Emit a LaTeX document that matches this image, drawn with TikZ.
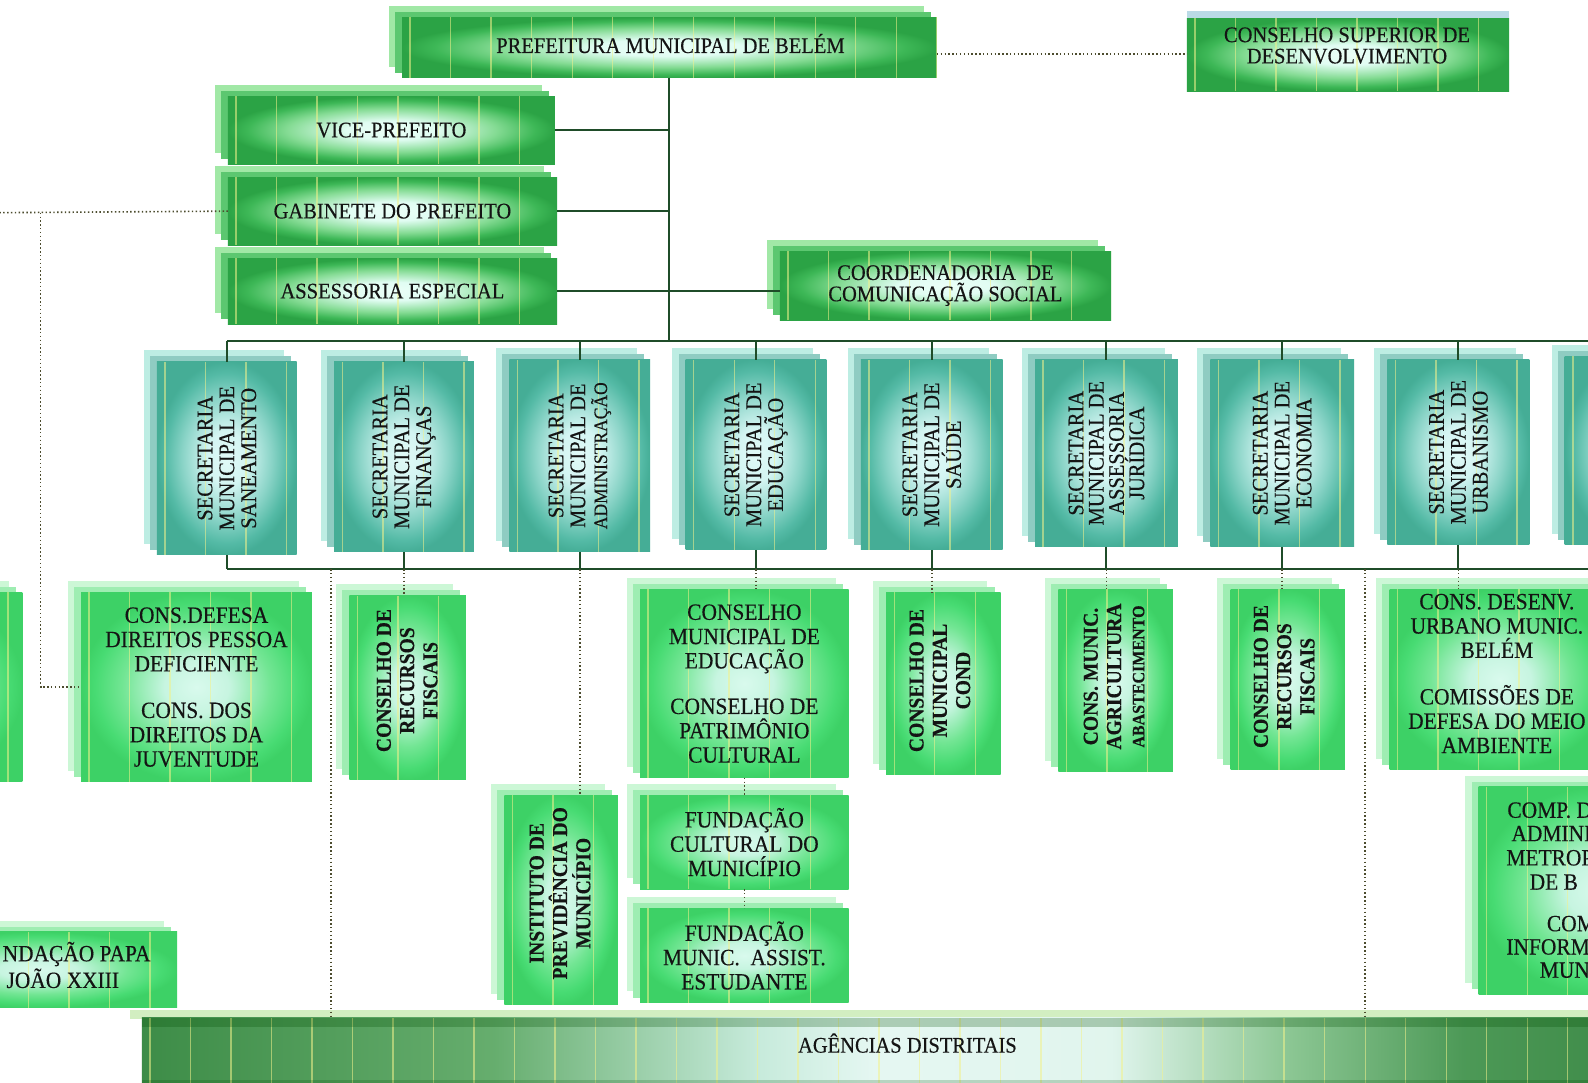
\documentclass[tikz,border=0pt]{standalone}
\usepackage{fontspec}
\setmainfont{Liberation Serif}[FakeStretch=0.92, FakeBold=0.3]
\pgfdeclareradialshading{topshade}{\pgfpoint{0bp}{0bp}}{rgb(0bp)=(0.92,1,0.97); rgb(7bp)=(0.88,0.99,0.95); rgb(16bp)=(0.52,0.86,0.58); rgb(22bp)=(0.24,0.72,0.34); rgb(25bp)=(0.17,0.64,0.27); rgb(50bp)=(0.17,0.64,0.27)}
\pgfdeclareradialshading{secshade}{\pgfpoint{0bp}{0bp}}{rgb(0bp)=(0.88,0.98,0.97); rgb(7bp)=(0.83,0.96,0.95); rgb(16bp)=(0.54,0.83,0.78); rgb(22bp)=(0.33,0.73,0.65); rgb(25bp)=(0.27,0.68,0.59); rgb(50bp)=(0.27,0.68,0.59)}
\pgfdeclareradialshading{coushade}{\pgfpoint{0bp}{0bp}}{rgb(0bp)=(0.85,0.98,0.93); rgb(7bp)=(0.78,0.96,0.88); rgb(16bp)=(0.45,0.9,0.58); rgb(22bp)=(0.28,0.86,0.45); rgb(25bp)=(0.24,0.82,0.4); rgb(50bp)=(0.24,0.82,0.4)}
\pgfdeclarehorizontalshading{agshade}{100bp}{rgb(0bp)=(0.24,0.55,0.28); rgb(25bp)=(0.24,0.55,0.28); rgb(37bp)=(0.4,0.68,0.43); rgb(46bp)=(0.78,0.92,0.86); rgb(50bp)=(0.9,0.97,0.95); rgb(58bp)=(0.88,0.96,0.93); rgb(64bp)=(0.55,0.78,0.58); rgb(70bp)=(0.3,0.6,0.34); rgb(75bp)=(0.25,0.55,0.29); rgb(100bp)=(0.25,0.55,0.29)}
\definecolor{topbackc}{rgb}{0.63,0.91,0.65}
\definecolor{topmidc}{rgb}{0.36,0.78,0.44}
\definecolor{secbackc}{rgb}{0.74,0.93,0.89}
\definecolor{secmidc}{rgb}{0.56,0.8,0.76}
\definecolor{coubackc}{rgb}{0.8,0.97,0.84}
\definecolor{coumidc}{rgb}{0.62,0.93,0.7}
\definecolor{linec}{rgb}{0.12,0.3,0.16}
\definecolor{dotc}{rgb}{0.3,0.3,0.18}
\definecolor{stripec}{rgb}{0.95,0.95,0.55}
\definecolor{textc}{rgb}{0.08,0.08,0.08}
\newcommand\mkbox[7]{%
  \fill[#2back] ({#3-13},{#4-11}) rectangle ({#5-13},{#6-11});
  \fill[#2mid] ({#3-7},{#4-5}) rectangle ({#5-6},{#6-5});
  \node[#2front, minimum width={(#5-#3)*0.5pt}, minimum height={(#6-#4)*0.5pt}] (#1) at ({(#3+#5)/2},{(#4+#6)/2}) {#7};
}
\begin{document}
\begin{tikzpicture}[x=0.5pt,y=-0.5pt,
  txt/.style={text=textc, font=\fontsize{11}{10.5}\selectfont, align=center},
  cotxt/.style={text=textc, font=\fontsize{11.5}{12}\selectfont, align=center},
  vtxt/.style={text=textc, font=\fontsize{11}{10.8}\selectfont, align=center, rotate=90, inner sep=0pt},
  vctxt/.style={text=textc, font=\bfseries\fontsize{10.5}{11.5}\selectfont, align=center, rotate=90, inner sep=0pt},
  conn/.style={draw=linec, line width=1pt},
  dotl/.style={draw=dotc, line width=0.8pt, dash pattern=on 0.7pt off 1.2pt},
  stripes/.style={path picture={\foreach \k in {0,...,40}{\draw[draw=stripec, line width=0.7pt, opacity=0.55] ([xshift=4pt+\k*20pt]path picture bounding box.south west) -- ([xshift=4pt+\k*20pt]path picture bounding box.north west);}}},
  topback/.style={fill=topbackc}, topmid/.style={fill=topmidc},
  topfront/.style={shade, shading=topshade, stripes, inner sep=0pt, outer sep=0pt, txt},
  secback/.style={fill=secbackc}, secmid/.style={fill=secmidc},
  secfront/.style={shade, shading=secshade, stripes, inner sep=0pt, outer sep=0pt},
  couback/.style={fill=coubackc}, coumid/.style={fill=coumidc},
  coufront/.style={shade, shading=coushade, stripes, inner sep=0pt, outer sep=0pt, cotxt},
]
\useasboundingbox (0,0) rectangle (1568,1069);
\clip (0,0) rectangle (1568,1069);
\fill[white] (0,0) rectangle (1568,1069);

% top level
\mkbox{pref}{top}{397}{17}{925}{77}{}
\node[txt] (prefl) at (662,43) {PREFEITURA MUNICIPAL DE BELÉM};
\fill[gray!50!cyan!40] (1172,11) rectangle (1490,18);
\node[topfront, minimum width=159pt, minimum height=36pt] (consup) at (1331,54) {};
\node[txt] (consupl) at (1330,45) {CONSELHO SUPERIOR DE\\DESENVOLVIMENTO};
\mkbox{vice}{top}{225}{95}{548}{162}{VICE-PREFEITO}
\mkbox{gab}{top}{225}{175}{550}{242}{GABINETE DO PREFEITO}
\mkbox{ass}{top}{225}{255}{550}{320}{ASSESSORIA ESPECIAL}
\mkbox{coord}{top}{770}{248}{1097}{316}{COORDENADORIA\ \ DE\\COMUNICAÇÃO SOCIAL}

% secretarias
\mkbox{san}{sec}{155}{357}{293}{548}{}
\mkbox{fin}{sec}{330}{357}{468}{545}{}
\mkbox{adm}{sec}{503}{355}{642}{545}{}
\mkbox{edu}{sec}{677}{355}{816}{543}{}
\mkbox{sau}{sec}{850}{355}{990}{543}{}
\mkbox{jur}{sec}{1022}{355}{1163}{540}{}
\mkbox{eco}{sec}{1195}{355}{1337}{540}{}
\mkbox{urb}{sec}{1370}{355}{1510}{538}{}
\mkbox{secn}{sec}{1545}{352}{1690}{538}{}
\node[vtxt] (sanl) at (san) {SECRETARIA\\MUNICIPAL DE\\SANEAMENTO};
\node[vtxt] (finl) at (fin) {SECRETARIA\\MUNICIPAL DE\\FINANÇAS};
\node[vtxt] (adml) at (adm) {SECRETARIA\\MUNICIPAL DE\\{\fontsize{9.4}{10.8}\selectfont ADMINISTRAÇÃO}};
\node[vtxt] (edul) at (edu) {SECRETARIA\\MUNICIPAL DE\\EDUCAÇÃO};
\node[vtxt] (saul) at (sau) {SECRETARIA\\MUNICIPAL DE\\SAÚDE};
\node[vtxt, font=\fontsize{11}{10}\selectfont] (jurl) at (jur) {SECRETARIA\\MUNICIPAL DE\\ASSESSORIA\\JURÍDICA};
\node[vtxt] (ecol) at (eco) {SECRETARIA\\MUNICIPAL DE\\ECONOMIA};
\node[vtxt] (urbl) at (urb) {SECRETARIA\\MUNICIPAL DE\\URBANISMO};

% councils
\mkbox{coul}{cou}{-200}{585}{22}{772}{}
\mkbox{defesa}{cou}{80}{585}{308}{772}{CONS.DEFESA\\DIREITOS PESSOA\\DEFICIENTE\\[11pt]CONS. DOS\\DIREITOS DA\\JUVENTUDE}
\mkbox{cfis1}{cou}{345}{588}{460}{770}{}
\mkbox{cedu}{cou}{632}{582}{838}{768}{CONSELHO\\MUNICIPAL DE\\EDUCAÇÃO\\[10.5pt]CONSELHO DE\\PATRIMÔNIO\\CULTURAL}
\mkbox{ccond}{cou}{875}{585}{988}{765}{}
\mkbox{cagri}{cou}{1045}{582}{1158}{762}{}
\mkbox{cfis2}{cou}{1215}{582}{1328}{760}{}
\mkbox{cdes}{cou}{1372}{582}{1590}{760}{}
\node[cotxt] (cdesl) at (1478,665) {CONS. DESENV.\\URBANO MUNIC.\\BELÉM\\[11pt]COMISSÕES DE\\DEFESA DO MEIO\\AMBIENTE};
\node[vctxt] (cfis1l) at (402,672) {CONSELHO DE\\RECURSOS\\FISCAIS};
\node[vctxt] (ccondl) at (928,672) {CONSELHO DE\\MUNICIPAL\\COND};
\node[vctxt] (cagril) at (1100,668) {CONS. MUNIC.\\AGRICULTURA\\{\fontsize{8.6}{11.5}\selectfont ABASTECIMENTO}};
\node[vctxt] (cfis2l) at (1268,668) {CONSELHO DE\\RECURSOS\\FISCAIS};

% lower
\mkbox{inst}{cou}{498}{785}{610}{992}{}
\node[vctxt] (instl) at (553,882) {INSTITUTO DE\\PREVIDÊNCIA DO\\MUNICÍPIO};
\mkbox{fcult}{cou}{632}{785}{838}{878}{FUNDAÇÃO\\CULTURAL DO\\MUNICÍPIO}
\mkbox{fass}{cou}{632}{897}{838}{990}{FUNDAÇÃO\\MUNIC.\ \ ASSIST.\\ESTUDANTE}
\mkbox{papa}{cou}{-100}{920}{175}{995}{}
\node[cotxt, anchor=east, inner sep=0pt] (papa1) at (149,942) {NDAÇÃO PAPA};
\node[cotxt] (papa2) at (62,966) {JOÃO XXIII};
\mkbox{comp}{cou}{1460}{777}{1700}{982}{}
\node[cotxt, anchor=west, inner sep=0pt] (comp1) at (1488,800) {COMP. D};
\node[cotxt, anchor=west, inner sep=0pt] (comp2) at (1492,823) {ADMINI};
\node[cotxt, anchor=west, inner sep=0pt] (comp3) at (1487,847) {METROP};
\node[cotxt, anchor=west, inner sep=0pt] (comp4) at (1510,871) {DE B};
\node[cotxt, anchor=west, inner sep=0pt] (comp5) at (1527,912) {COM};
\node[cotxt, anchor=west, inner sep=0pt] (comp6) at (1487,935) {INFORM};
\node[cotxt, anchor=west, inner sep=0pt] (comp7) at (1520,958) {MUN};

% agencias
\fill[yellow!30!green!25] (128,997) rectangle (1590,1006);
\node[shade, shading=agshade, stripes, inner sep=0pt, outer sep=0pt, minimum width=725pt, minimum height=35pt] (ag) at (865,1040) {};
\fill[green!30!black, opacity=0.25] (140,1005) rectangle (1590,1014);
\fill[green!30!black, opacity=0.2] (140,1066) rectangle (1590,1075);
\node[txt] (agl) at (896,1030) {AGÊNCIAS DISTRITAIS};

% connectors
\coordinate (busT) at (224,337);
\coordinate (busTe) at (1590,337);
\coordinate (busB) at (224,562);
\coordinate (busBe) at (1590,562);
\draw[conn] (pref.south) -- (pref.south |- busT);
\draw[conn] (busT) -- (busTe);
\draw[conn] (busB) -- (busBe);
\foreach \s in {san,fin,adm,edu,sau,jur,eco,urb}{
  \draw[conn] (\s.north |- busT) -- (\s.north);
  \draw[conn] (\s.south) -- (\s.south |- busB);
}
\draw[conn] (vice.east) -- (vice.east -| pref.south);
\draw[conn] (gab.east) -- (gab.east -| pref.south);
\draw[conn] (ass.east) -- (ass.east -| coord.west);

\draw[dotl] ([yshift=-3.25pt]pref.east) -- ([yshift=-3.25pt]pref.east -| consup.west);
\coordinate (edgeL) at (0,210);
\coordinate (dv) at (40,210);
\draw[dotl] (gab.west) -- (edgeL);
\draw[dotl] (dv) |- (defesa.west);
\foreach \s/\c in {fin/cfis1, edu/cedu, sau/ccond, jur/cagri, eco/cfis2, urb/cdes}{
  \draw[dotl] (\s.south |- busB) -- (\s.south |- \c.north);
}
\coordinate (d1) at (327,562);
\coordinate (d2) at (1348,562);
\draw[dotl] (d1) -- (d1 |- ag.north);
\draw[dotl] (d2) -- (d2 |- ag.north);
\draw[dotl] (adm.south |- busB) -- (adm.south |- inst.north);
\draw[dotl] (cedu.south) -- (fcult.north);
\draw[dotl] (fcult.south) -- (fass.north);
\end{tikzpicture}
\end{document}
